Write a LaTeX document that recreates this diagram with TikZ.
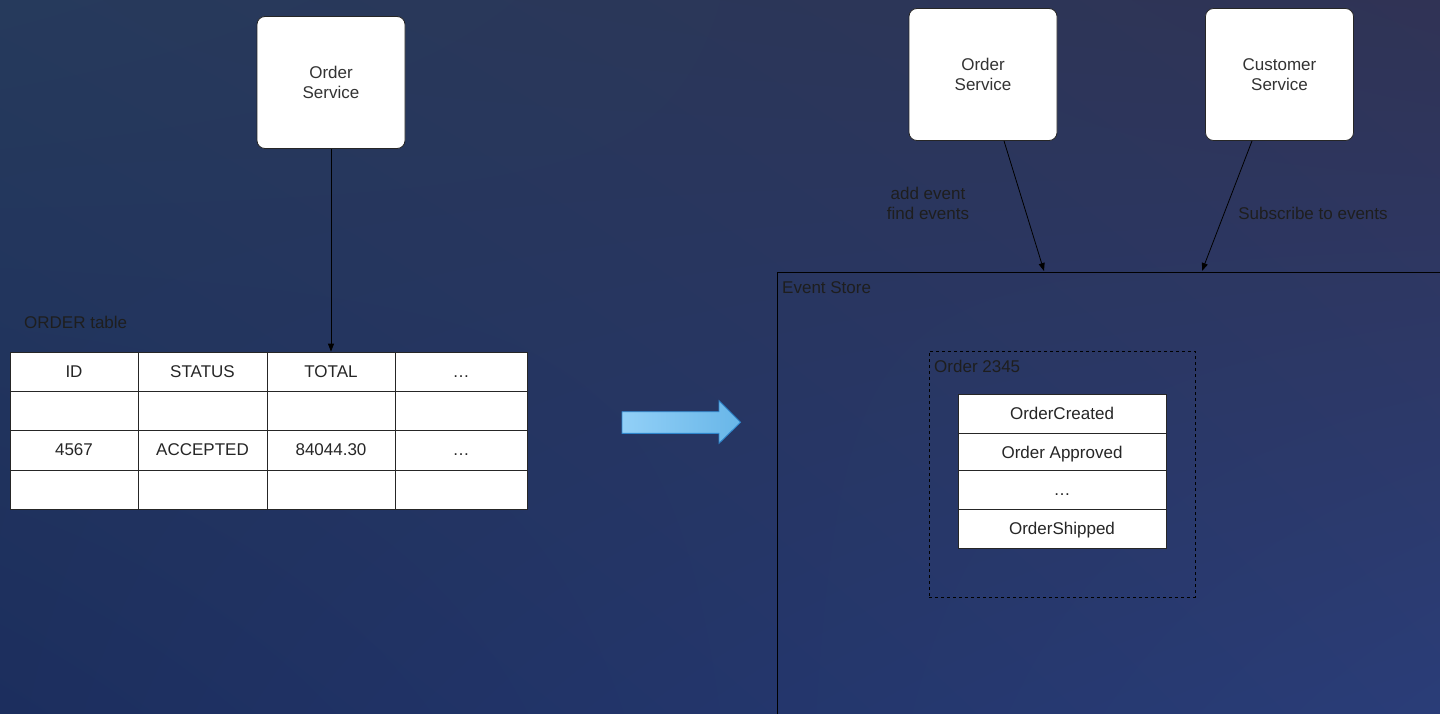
\documentclass[tikz,border=0pt]{standalone}
\usepackage{fontspec}
\setmainfont{Liberation Sans}
\usetikzlibrary{arrows.meta,shadings}
\definecolor{bgTL}{HTML}{263A5C}
\definecolor{bgTR}{HTML}{303355}
\definecolor{bgBL}{HTML}{1C2E5E}
\definecolor{bgBR}{HTML}{2A3D78}
\definecolor{arrL}{HTML}{92D0F7}
\definecolor{arrR}{HTML}{68B6E8}
\definecolor{arrE}{HTML}{2F86CC}
\definecolor{txt}{HTML}{1E1E1E}
\begin{document}
\begin{tikzpicture}[x=1pt,y=-1pt,
  basefont/.style={font=\fontsize{17}{20}\selectfont},
  svc/.style={basefont, draw=black!85, line width=0.8pt, fill=white, rounded corners=8pt,
    minimum width=148pt, minimum height=132pt, align=center, text=black!80, inner sep=0pt},
  cell/.style={basefont, draw=black!85, line width=0.8pt, fill=white, inner sep=0pt,
    text=black!85, minimum height=39pt},
  ctext/.style={basefont, text=black!85, text height=12.2pt, text depth=0.8pt, inner sep=0pt},
  lbl/.style={basefont, text=txt, inner sep=0pt, align=center},
  conn/.style={draw=black, line width=0.8pt, -{Triangle[length=8pt,width=6pt]}}
]
\useasboundingbox (0,0) rectangle (1440,713);
\shade[upper left=bgTL, upper right=bgTR, lower left=bgBL, lower right=bgBR] (0,0) rectangle (1440,713);

% left side
\node[svc] (os1) at (331,82.5) {Order\\Service};
\node[lbl, anchor=west] (tlab) at (24,322) {ORDER table};

\foreach \c/\x/\w in {1/74/128, 2/202.5/129, 3/331/128, 4/461/132}{
  \foreach \r/\y/\h in {1/371.5/39, 2/410.5/39, 3/450/40, 4/489.5/39}{
    \node[cell, minimum width=\w pt, minimum height=\h pt] (t\r\c) at (\x,\y) {};
  }
}
\node[ctext] at (t11) {ID};
\node[ctext] at (t12) {STATUS};
\node[ctext] at (t13) {TOTAL};
\node[ctext] at (t14) {\dots};
\node[ctext] at (t31) {4567};
\node[ctext] at (t32) {ACCEPTED};
\node[ctext] at (t33) {84044.30};
\node[ctext] at (t34) {\dots};

\draw[conn] (os1.south) -- (t13.north);

% big arrow
\draw[draw=arrE, line width=0.9pt, left color=arrL, right color=arrR]
  (622,411.7) -- (719,411.7) -- (719,400.7) -- (740.5,422.3) -- (719,443.3) -- (719,433.3) -- (622,433.3) -- cycle;

% right side
\node[svc] (os2) at (983,74.5) {Order\\Service};
\node[svc] (cs) at (1279.5,74.5) {Customer\\Service};

\begin{scope}
\clip (0,0) rectangle (1440,713);
\node[draw=black, line width=0.9pt, anchor=north west, minimum width=720pt, minimum height=480pt, inner sep=0pt] (store) at (777,272) {};
\end{scope}
\node[lbl, anchor=west] (slab) at (782,288) {Event Store};

\node[draw=black, dashed, line width=0.8pt, minimum width=266pt, minimum height=246pt, inner sep=0pt] (grp) at (1062,474) {};
\node[lbl, anchor=west] (glab) at (934,366) {Order 2345};

\node[cell, minimum width=208pt, minimum height=39.5pt] (e1) at (1062,414) {};
\node[cell, minimum width=208pt, minimum height=36.5pt] (e2) at (1062,451.75) {};
\node[cell, minimum width=208pt, minimum height=39pt] (e3) at (1062,489.5) {};
\node[cell, minimum width=208pt, minimum height=39pt] (e4) at (1062,528.5) {};
\node[ctext] at (e1) {OrderCreated};
\node[ctext] at ([yshift=-1pt]e2.center) {Order Approved};
\node[ctext] at (e3) {\dots};
\node[ctext] at (e4) {OrderShipped};

\draw[conn] ([xshift=21pt]os2.south) -- ([xshift=267pt,yshift=1pt]store.north west);
\draw[conn] ([xshift=-27.5pt]cs.south) -- ([xshift=425pt,yshift=1pt]store.north west);

\node[lbl] (l1) at (928,203) {add event\\find events};
\node[lbl] (l2) at (1313,213) {Subscribe to events};
\end{tikzpicture}
\end{document}
